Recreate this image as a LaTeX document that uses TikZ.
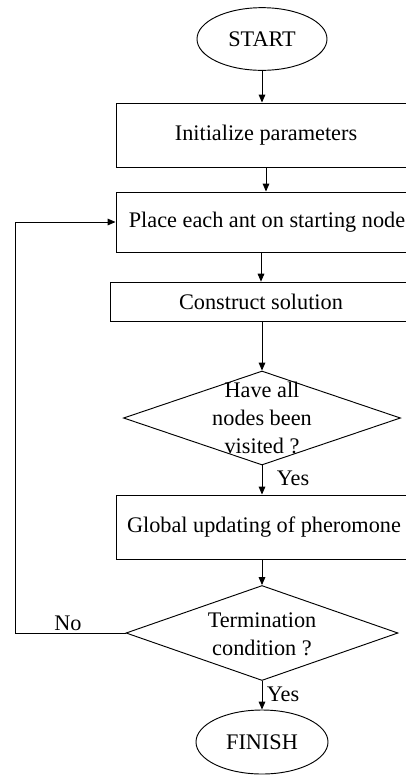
\documentclass[tikz,border=0pt]{standalone}
\usepackage{fontspec}
\setmainfont{Liberation Serif}
\usetikzlibrary{shapes.geometric, arrows.meta, positioning}

\begin{document}
\begin{tikzpicture}[font=\fontsize{19}{24}\selectfont, >={Triangle[length=0.24cm,width=0.2cm]}, line width=0.8pt,
    box/.style={draw, rectangle, inner sep=0pt, minimum height=1.9cm},
    term/.style={draw, ellipse, inner sep=0pt, minimum width=3.9cm, minimum height=1.88cm},
    decide/.style={draw, diamond, inner sep=0pt}]
    \useasboundingbox (0,0) rectangle (12.18,-23.28);

    \node[term] (start) at (7.86,-1.17) {START};
    \node[box, minimum width=9cm, minimum height=1.92cm] (init) at (7.98,-4.05) {Initialize parameters};
    \node[box, minimum width=9.06cm, minimum height=1.8cm] (place) at (8.01,-6.66) {Place each ant on starting node};
    \node[box, minimum width=9.06cm, minimum height=1.17cm] (build) at (7.83,-9.05) {Construct solution};
    \node[decide, minimum width=8.31cm, minimum height=2.82cm, label={[align=center]center:Have all\\nodes been\\visited ?}] (visited) at (7.86,-12.54) {};
    \node[box, minimum width=8.88cm, minimum height=1.92cm] (update) at (7.92,-15.81) {Global updating of pheromone};
    \node[decide, minimum width=8.16cm, minimum height=2.85cm, label={[align=center, yshift=-0.05cm]center:Termination\\condition ?}] (stop) at (7.86,-18.99) {};
    \node[term, minimum width=3.96cm, minimum height=1.92cm] (finish) at (7.86,-22.26) {FINISH};

    \coordinate (back) at (0.45,-18.99);
    \node (yes1) at (8.79,-14.34) {Yes};
    \node (yes2) at (8.49,-20.82) {Yes};
    \node (no) at (2.04,-18.69) {No};

    \draw[->] (start) -- (start |- init.north);
    \draw[->] (init.south) -- (init.south |- place.north);
    \draw[->] (build.north |- place.south) -- (build.north);
    \draw[->] (build.south -| visited.north) -- (visited.north);
    \draw[->] (visited.south) -- (visited.south |- update.north);
    \draw[->] (update.south -| stop.north) -- (stop.north);
    \draw[->] (stop.south) -- (finish.north);
    \draw[->] (stop.west) -- (back) |- (place.west);
\end{tikzpicture}
\end{document}
